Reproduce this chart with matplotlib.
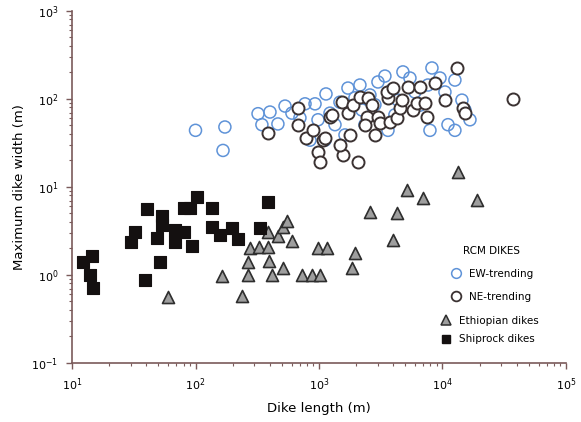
import matplotlib.pyplot as plt
from matplotlib.lines import Line2D
from matplotlib.ticker import LogLocator

# RCM dikes, EW-trending (length m, max width m)
ew_len = [100, 173, 167, 321, 345, 401, 465, 531, 604, 701, 771, 929, 982, 1140,
          1228, 1348, 1479, 1717, 1955, 2147, 2228, 2587, 3004, 3420, 3899, 4363,
          4786, 5456, 5986, 6572, 7634, 8224, 9550, 10480, 11090, 12620, 14390,
          15210, 16710, 12620, 7925, 3622, 1624, 1119, 845, 2357, 4121, 2838]
ew_wid = [44, 48, 26, 68, 51, 71, 52, 83, 69, 61, 88, 88, 58, 114,
          69, 51, 92, 133, 103, 144, 75, 111, 156, 182, 127, 97,
          203, 173, 120, 85, 144, 225, 173, 120, 51, 164, 97,
          75, 58, 44, 44, 44, 39, 34, 34, 51, 66, 86]

# RCM dikes, NE-trending
ne_len = [386, 676, 676, 785, 894, 1077, 982, 1019, 1228, 1536, 1782, 1563, 2070,
          1267, 1717, 1884, 2147, 2495, 2673, 2432, 2357, 2838, 1479, 1119, 3004,
          3119, 3758, 4256, 4529, 5770, 7447, 6180, 7211, 10480, 14660, 15210,
          4677, 3622, 3532, 3972, 5263, 6572, 8690, 13030, 37240]
ne_wid = [41, 79, 51, 36, 44.5, 34, 25, 19.2, 62, 92, 39, 23, 19.2,
          66, 69, 85, 106, 103, 85, 63, 51, 39, 30, 36, 63,
          53, 55, 61, 79, 75, 63, 90, 90, 97, 79, 69,
          97, 103, 121, 133, 138, 138, 152, 223, 100]

# Ethiopian dikes
eth_len = [60, 164, 238, 266, 276, 266, 327, 386, 386, 394, 416, 465, 511, 551,
           511, 604, 728, 877, 1019, 982, 1161, 1955, 1849, 13370, 5160, 6950,
           19000, 2590, 4290, 3972]
eth_wid = [0.56, 0.97, 0.58, 1.0, 2.03, 1.41, 2.08, 3.08, 2.08, 1.44, 1.0, 2.77, 3.51, 4.11,
           1.2, 2.43, 1.0, 1.0, 1.0, 2.03, 2.03, 1.78, 1.2, 14.8, 9.25, 7.5,
           7.1, 5.2, 5.07, 2.5]

# Shiprock dikes
ship_len = [12.3, 14.5, 14.0, 14.8, 30.1, 32.4, 39.0, 40.5, 48.7, 51.6, 53.6, 53.6,
            68.2, 68.2, 80.7, 90.2, 80.7, 93.7, 103, 136, 136, 158, 198, 221, 333, 386]
ship_wid = [1.41, 1.64, 1.0, 0.71, 2.37, 3.08, 0.88, 5.62, 2.63, 1.41, 4.68, 3.7,
            3.24, 2.37, 5.77, 5.77, 3.08, 2.14, 7.69, 5.77, 3.51, 2.85, 3.42, 2.56, 3.42, 6.76]

blue = '#5f93d8'
dark = '#3b3232'
axcol = '#7a5a5a'

fig = plt.figure(figsize=(5.81, 4.22), dpi=100)
ax = fig.add_axes([0.124, 0.140, 0.850, 0.834])

ax.scatter(ew_len, ew_wid, s=75, marker='o', facecolors='none', edgecolors=blue, linewidths=1.1, zorder=2)
ax.scatter(ne_len, ne_wid, s=75, marker='o', facecolors='white', edgecolors=dark, linewidths=1.4, zorder=3)
ax.scatter(eth_len, eth_wid, s=75, marker='^', facecolors='#9e9e9e', edgecolors='#2e2e2e', linewidths=1.2, zorder=3)
ax.scatter(ship_len, ship_wid, s=65, marker='s', facecolors='#141010', edgecolors='#141010', linewidths=0.8, zorder=4)

ax.set_xscale('log')
ax.set_yscale('log')
ax.set_xlim(10, 1e5)
ax.set_ylim(0.1, 1000)

for side in ['top', 'right']:
    ax.spines[side].set_visible(False)
for side in ['left', 'bottom']:
    ax.spines[side].set_color(axcol)
    ax.spines[side].set_linewidth(1.2)

ax.xaxis.set_major_locator(LogLocator(base=10, numticks=10))
ax.yaxis.set_major_locator(LogLocator(base=10, numticks=10))
ax.xaxis.set_minor_locator(LogLocator(base=10, subs=range(2, 10), numticks=20))
ax.yaxis.set_minor_locator(LogLocator(base=10, subs=range(2, 10), numticks=20))
ax.tick_params(which='major', direction='out', length=4, width=1, color=axcol, labelsize=8, pad=6)
ax.tick_params(which='minor', direction='out', length=2.5, width=0.8, color=axcol)

ax.set_xlabel('Dike length (m)', fontsize=9.5, labelpad=6)
ax.set_ylabel('Maximum dike width (m)', fontsize=9.5, labelpad=4)

h1 = [Line2D([], [], ls='', marker='o', ms=7, mfc='none', mec=blue, mew=1.1),
      Line2D([], [], ls='', marker='o', ms=7, mfc='white', mec=dark, mew=1.3)]
leg1 = ax.legend(h1, ['EW-trending', 'NE-trending'], title='RCM DIKES', loc='upper left',
                 bbox_to_anchor=(0.745, 0.36), frameon=False, fontsize=7.5, title_fontsize=7.5,
                 handletextpad=0.7, handlelength=1.2, labelspacing=1.25)
ax.add_artist(leg1)
h2 = [Line2D([], [], ls='', marker='^', ms=7, mfc='#9e9e9e', mec='#2e2e2e', mew=1.1),
      Line2D([], [], ls='', marker='s', ms=6, mfc='#141010', mec='#141010')]
ax.legend(h2, ['Ethiopian dikes', 'Shiprock dikes'], loc='upper left',
          bbox_to_anchor=(0.725, 0.16), frameon=False, fontsize=7.5,
          handletextpad=0.7, handlelength=1.2, labelspacing=0.8)

fig.savefig('out.png', dpi=100)
